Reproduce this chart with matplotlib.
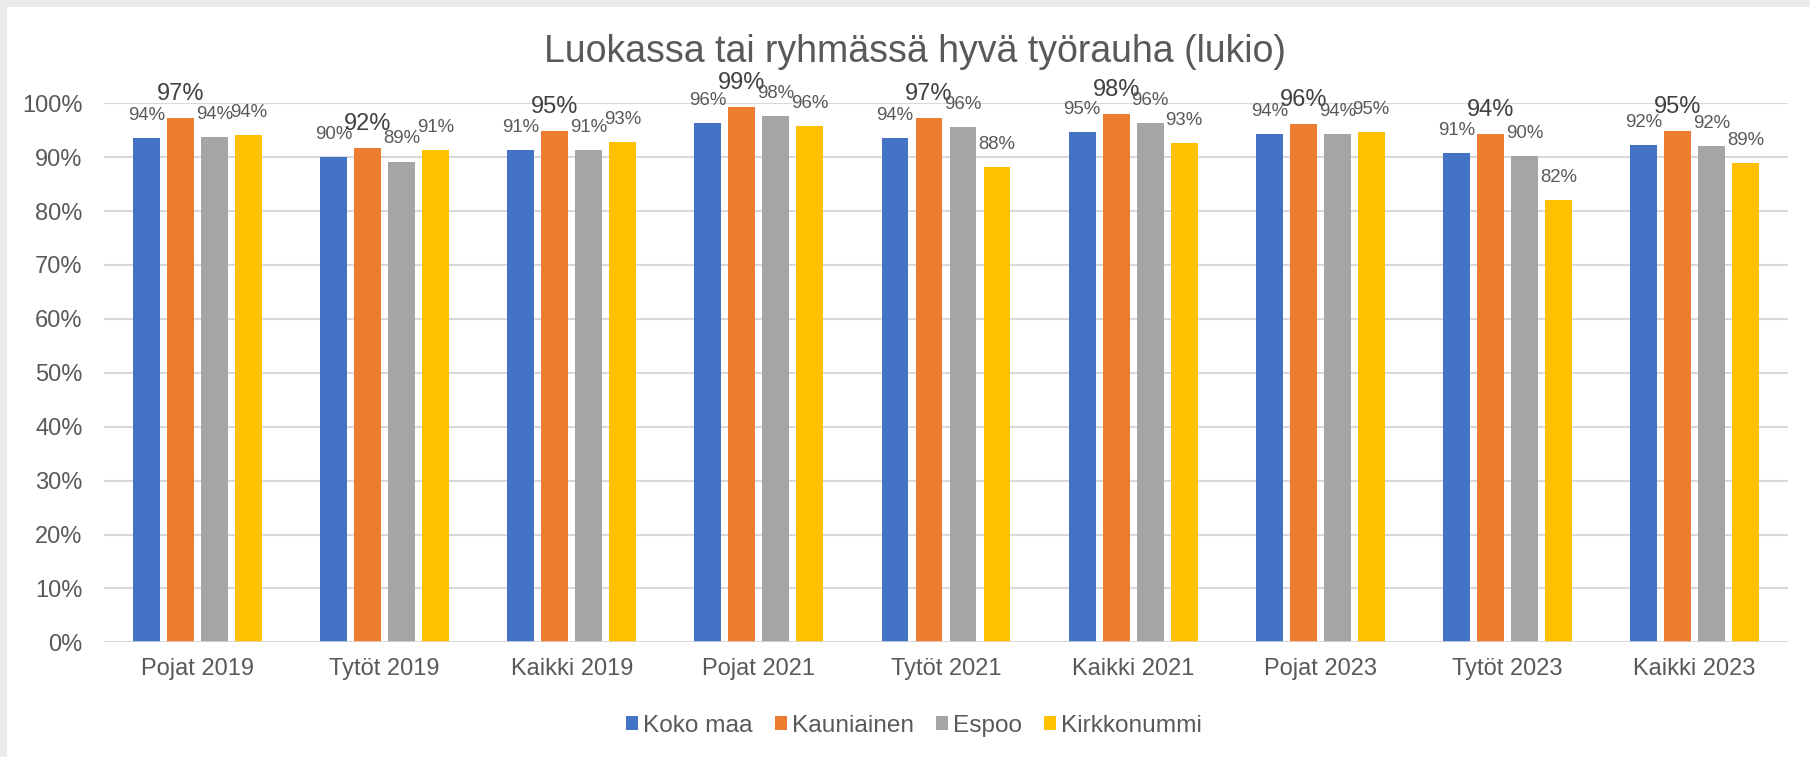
import matplotlib
matplotlib.use("Agg")
import matplotlib.pyplot as plt
import numpy as np
from matplotlib.patches import Rectangle

plt.rcParams['font.family'] = ['Liberation Sans', 'DejaVu Sans']

categories = ["Pojat 2019", "Tytöt 2019", "Kaikki 2019", "Pojat 2021", "Tytöt 2021",
              "Kaikki 2021", "Pojat 2023", "Tytöt 2023", "Kaikki 2023"]
series_names = ["Koko maa", "Kauniainen", "Espoo", "Kirkkonummi"]
koko_maa    = [0.9356, 0.900, 0.913, 0.964, 0.936, 0.947, 0.943, 0.908, 0.923]
kauniainen  = [0.9727, 0.917, 0.949, 0.993, 0.973, 0.980, 0.962, 0.943, 0.949]
espoo       = [0.9375, 0.892, 0.913, 0.976, 0.956, 0.964, 0.943, 0.902, 0.921]
kirkkonummi = [0.941, 0.913, 0.928, 0.958, 0.882, 0.926, 0.946, 0.821, 0.890]
yticks = [0, 0.1, 0.2, 0.3, 0.4, 0.5, 0.6, 0.7, 0.8, 0.9, 1.0]
ytick_labels = ["0%", "10%", "20%", "30%", "40%", "50%", "60%", "70%", "80%", "90%", "100%"]

series = [koko_maa, kauniainen, espoo, kirkkonummi]
colors = ["#4472C4", "#ED7D31", "#A5A5A5", "#FFC000"]

W, H = 1810, 757
fig = plt.figure(figsize=(W / 100, H / 100), dpi=100)
fig.patch.set_facecolor("white")
# grey frame at top and left
fig.patches.append(Rectangle((0, 1 - 7 / H), 1, 7 / H, transform=fig.transFigure,
                             facecolor="#EBEBEB", edgecolor="none", zorder=0))
fig.patches.append(Rectangle((0, 0), 7 / W, 1, transform=fig.transFigure,
                             facecolor="#EBEBEB", edgecolor="none", zorder=0))

left, right = 104 / W, 1788 / W
bottom, top = 1 - 642.3 / H, 1 - 103.3 / H
ax = fig.add_axes([left, bottom, right - left, top - bottom])

x = np.arange(len(categories))
pitch = 0.1817
bw = 0.144
offsets = (np.arange(4) - 1.5) * pitch

for i, (vals, col, name) in enumerate(zip(series, colors, series_names)):
    bars = ax.bar(x + offsets[i], vals, width=bw, color=col, label=name, zorder=3)
    for b, v in zip(bars, vals):
        big = (i == 1)
        ax.annotate(f"{round(v * 100):d}%",
                    xy=(b.get_x() + b.get_width() / 2, v),
                    xytext=(0, 13), textcoords="offset points",
                    ha="center", va="baseline",
                    fontsize=17 if big else 13.4,
                    color="#404040" if big else "#595959", zorder=5)

ax.set_xlim(-0.5, len(categories) - 0.5)
ax.set_ylim(0, 1.0)
ax.set_yticks(yticks)
ax.set_yticklabels(ytick_labels)
ax.set_xticks(x)
ax.set_xticklabels(categories)
ax.tick_params(axis="y", length=0, pad=15.5, labelsize=17, labelcolor="#595959")
ax.tick_params(axis="x", length=0, pad=11, labelsize=17, labelcolor="#595959")
for s in ax.spines.values():
    s.set_visible(False)
ax.yaxis.grid(True, color="#D9D9D9", linewidth=1.5, zorder=0)
ax.set_axisbelow(True)
ax.axhline(0, color="#D9D9D9", linewidth=1.8, zorder=4)

fig.text(915 / W, 1 - 52 / H, "Luokassa tai ryhmässä hyvä työrauha (lukio)",
         ha="center", va="center", fontsize=27, color="#595959")

leg = fig.legend(loc="center", bbox_to_anchor=(914 / W, 1 - 726 / H), ncol=4,
                 frameon=False, fontsize=17.6, handlelength=0.5, handleheight=0.5,
                 handletextpad=0.2, columnspacing=0.9, labelcolor="#595959")

fig.savefig("out.png", dpi=100, facecolor="white")
